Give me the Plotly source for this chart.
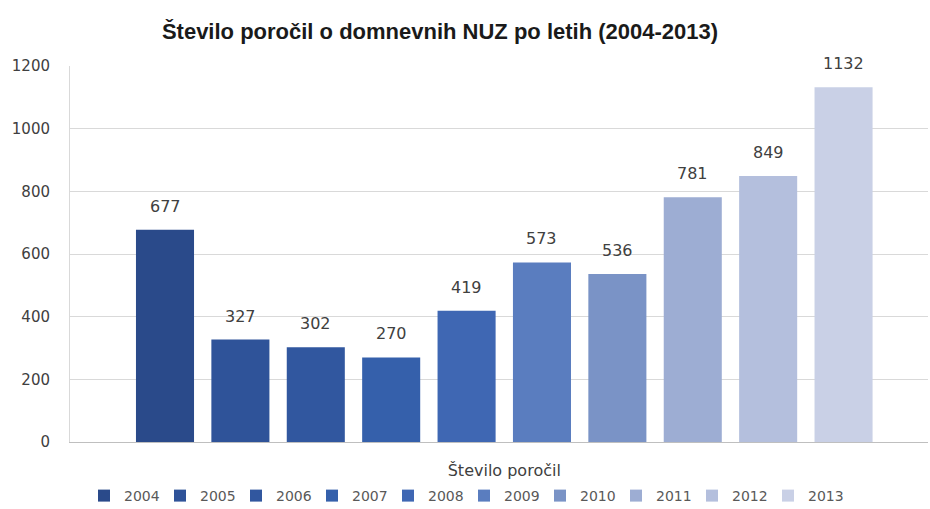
import plotly.graph_objects as go

years = [2004, 2005, 2006, 2007, 2008, 2009, 2010, 2011, 2012, 2013]
values = [677, 327, 302, 270, 419, 573, 536, 781, 849, 1132]
colors = ["#2a4a8a", "#2f5399", "#31579f", "#3560ab", "#3f67b3", "#5a7dbf",
          "#7a93c6", "#9dadd3", "#b4bfdd", "#c9d0e6"]
category_label = "Število poročil"
title_text = "Število poročil o domnevnih NUZ po letih (2004-2013)"
y_ticks = [0, 200, 400, 600, 800, 1000, 1200]

fig = go.Figure()
for yr, v, c in zip(years, values, colors):
    fig.add_trace(go.Bar(x=[yr], y=[v], name=str(yr), marker_color=c,
                         marker_line_width=0, width=0.77))
    fig.add_annotation(x=yr, y=v, text=str(v), showarrow=False,
                       yanchor="bottom", yshift=12,
                       font=dict(family="DejaVu Sans", size=16, color="#404040"))

fig.update_layout(
    width=930, height=509,
    margin=dict(l=70, r=2, t=66, b=67, autoexpand=False),
    paper_bgcolor="white", plot_bgcolor="white",
    title=dict(text="<b>" + title_text + "</b>", x=440/930, xanchor="center",
               xref="container", y=1-31/509, yanchor="middle", yref="container",
               font=dict(family="Liberation Sans", size=22, color="#1a1a1a")),
    showlegend=True,
    legend=dict(orientation="h", x=464/930, xanchor="center", xref="container",
                y=13/509, yanchor="middle", yref="container",
                font=dict(family="DejaVu Sans", size=14, color="#595959"),
                itemwidth=30, entrywidth=31, entrywidthmode="pixels",
                traceorder="normal", tracegroupgap=0),
    xaxis=dict(range=[2002.74, 2014.12], tickvals=[2008.5], ticktext=[category_label],
               showgrid=False, zeroline=False, showline=True, linecolor="#bfbfbf",
               ticks="", ticklabelstandoff=14,
               tickfont=dict(family="DejaVu Sans", size=16, color="#404040")),
    yaxis=dict(range=[0, 1200], tickvals=y_ticks, showgrid=True, gridcolor="#d9d9d9",
               zeroline=False, showline=True, linecolor="#d9d9d9", ticks="",
               ticklabelstandoff=16,
               tickfont=dict(family="DejaVu Sans", size=15, color="#404040")),
)

fig.write_html("out.html", post_script="document.body.style.margin='0';",
               config={"displayModeBar": False})
